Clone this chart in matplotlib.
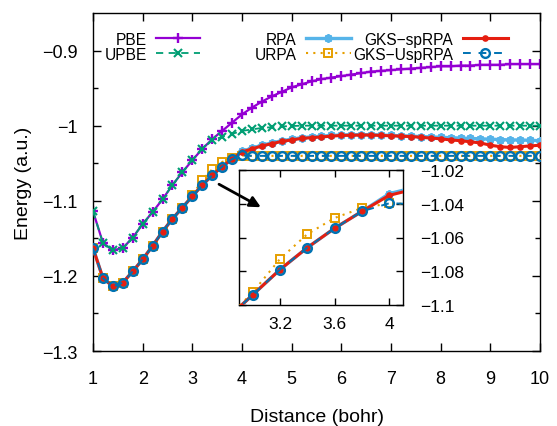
import matplotlib
matplotlib.use("Agg")
import matplotlib.pyplot as plt
from matplotlib.ticker import FixedLocator, FuncFormatter
from matplotlib.patches import FancyArrowPatch

plt.rcParams['font.family'] = ['Liberation Sans', 'DejaVu Sans']
plt.rcParams['axes.unicode_minus'] = True

distance = [1.0, 1.2, 1.4, 1.6, 1.8, 2.0, 2.2, 2.4, 2.6, 2.8,
            3.0, 3.2, 3.4, 3.6, 3.8, 4.0, 4.2, 4.4, 4.6, 4.8,
            5.0, 5.2, 5.4, 5.6, 5.8, 6.0, 6.2, 6.4, 6.6, 6.8,
            7.0, 7.2, 7.4, 7.6, 7.8, 8.0, 8.2, 8.4, 8.6, 8.8,
            9.0, 9.2, 9.4, 9.6, 9.8, 10.0]

pbe = [-1.114, -1.156, -1.166, -1.163, -1.149, -1.131, -1.115, -1.098, -1.079, -1.062,
       -1.046, -1.031, -1.018, -1.007, -0.996, -0.985, -0.976, -0.968, -0.961, -0.955,
       -0.949, -0.945, -0.941, -0.938, -0.936, -0.934, -0.932, -0.930, -0.928, -0.927,
       -0.926, -0.925, -0.924, -0.923, -0.922, -0.921, -0.921, -0.920, -0.920, -0.919,
       -0.919, -0.919, -0.918, -0.918, -0.918, -0.918]

upbe = [-1.114, -1.156, -1.166, -1.163, -1.149, -1.131, -1.115, -1.098, -1.079, -1.062,
        -1.046, -1.031, -1.019, -1.015, -1.011, -1.007, -1.005, -1.003, -1.002, -1.001,
        -1.0005, -1.000, -1.000, -1.000, -1.000, -1.000, -1.000, -1.000, -1.000, -1.000,
        -1.000, -1.000, -1.000, -1.000, -1.000, -1.000, -1.000, -1.000, -1.000, -1.000,
        -1.000, -1.000, -1.000, -1.000, -1.000, -1.000]

rpa = [-1.163, -1.203, -1.214, -1.209, -1.194, -1.178, -1.160, -1.141, -1.124, -1.109,
       -1.094, -1.079, -1.066, -1.0545, -1.0445, -1.034, -1.030, -1.026, -1.023, -1.020,
       -1.018, -1.016, -1.015, -1.014, -1.013, -1.0125, -1.012, -1.012, -1.012, -1.0125,
       -1.013, -1.0135, -1.014, -1.0145, -1.015, -1.0155, -1.016, -1.0165, -1.017, -1.0175,
       -1.018, -1.0185, -1.019, -1.019, -1.0195, -1.020]

urpa = [-1.163, -1.203, -1.214, -1.209, -1.194, -1.178, -1.160, -1.141, -1.124, -1.109,
        -1.0925, -1.0727, -1.058, -1.0484, -1.0425, -1.0398, -1.0402, -1.0402, -1.0402, -1.0402,
        -1.0402, -1.0402, -1.0402, -1.0402, -1.0402, -1.0402, -1.0402, -1.0402, -1.0402, -1.0402,
        -1.0402, -1.0402, -1.0402, -1.0402, -1.0402, -1.0402, -1.0402, -1.0402, -1.0402, -1.0402,
        -1.0402, -1.0402, -1.0402, -1.0402, -1.0402, -1.0402]

gks_sprpa = [-1.163, -1.203, -1.214, -1.209, -1.194, -1.178, -1.160, -1.141, -1.124, -1.109,
             -1.094, -1.079, -1.066, -1.0545, -1.0445, -1.035, -1.031, -1.027, -1.024, -1.021,
             -1.019, -1.017, -1.016, -1.015, -1.014, -1.013, -1.0128, -1.0125, -1.0125, -1.013,
             -1.0135, -1.014, -1.0145, -1.0155, -1.0165, -1.0175, -1.019, -1.020, -1.0215, -1.023,
             -1.026, -1.028, -1.029, -1.028, -1.027, -1.026]

gks_usprpa = [-1.163, -1.203, -1.214, -1.209, -1.194, -1.178, -1.160, -1.141, -1.124, -1.109,
              -1.094, -1.079, -1.066, -1.0545, -1.0445, -1.0397, -1.0402, -1.0402, -1.0402, -1.0402,
              -1.0402, -1.0402, -1.0402, -1.0402, -1.0402, -1.0402, -1.0402, -1.0402, -1.0402, -1.0402,
              -1.0402, -1.0402, -1.0402, -1.0402, -1.0402, -1.0402, -1.0402, -1.0402, -1.0402, -1.0402,
              -1.0402, -1.0402, -1.0402, -1.0402, -1.0402, -1.0402]

labels = ['PBE', 'UPBE', 'RPA', 'URPA', 'GKS\u2212spRPA', 'GKS\u2212UspRPA']
series = [pbe, upbe, rpa, urpa, gks_sprpa, gks_usprpa]

main_xticks = [1, 2, 3, 4, 5, 6, 7, 8, 9, 10]
main_yticks = [-1.3, -1.2, -1.1, -1.0, -0.9]
inset_xticks = [3.2, 3.6, 4.0]
inset_yticks = [-1.1, -1.08, -1.06, -1.04, -1.02]

styles = [
    dict(color='#9400D3', ls='-', marker='+', ms=6.5, mew=1.7, lw=1.6),
    dict(color='#009E73', ls=(0, (4, 3)), marker='x', ms=5.8, mew=1.5, lw=1.3),
    dict(color='#56B4E9', ls='-', marker=(8, 2, 0), ms=6.0, mew=1.5, lw=2.4),
    dict(color='#E69F00', ls=(0, (1, 2.5)), marker='s', mfc='none', ms=5.5, mew=1.4, lw=1.5),
    dict(color='#E51E10', ls='-', marker='o', ms=4.8, mew=0, lw=2.2),
    dict(color='#0072B2', ls=(0, (4, 4)), marker='o', mfc='none', ms=6.3, mew=1.7, lw=1.4),
]

fmt = FuncFormatter(lambda v, p: ('%g' % v).replace('-', '\u2212'))

fig = plt.figure(figsize=(5.57, 4.27), dpi=100)
ax = fig.add_axes([93 / 557, 1 - 352 / 427, (540 - 93) / 557, (352 - 14) / 427])

handles = []
for i, (lab, ys, st) in enumerate(zip(labels, series, styles)):
    h, = ax.plot(distance, ys, label=lab, zorder=2 + i, **st)
    handles.append(h)

ax.set_xlim(1, 10)
ax.set_ylim(-1.3, -0.85)
ax.xaxis.set_major_locator(FixedLocator(main_xticks))
ax.yaxis.set_major_locator(FixedLocator(main_yticks))
ax.yaxis.set_minor_locator(FixedLocator([-1.25, -1.15, -1.05, -0.95]))
ax.xaxis.set_major_formatter(fmt)
ax.yaxis.set_major_formatter(fmt)
ax.tick_params(which='both', direction='in', top=True, right=True, labelsize=13)
ax.tick_params(which='major', length=6, width=1)
ax.tick_params(which='minor', length=3.5, width=1)
ax.tick_params(axis='y', pad=11)
ax.tick_params(axis='x', pad=14)
for s in ax.spines.values():
    s.set_linewidth(1.0)

ax.set_xlabel('Distance (bohr)', fontsize=14)
ax.set_ylabel('Energy (a.u.)', fontsize=14)
ax.xaxis.set_label_coords(0.5, -0.17)
ax.yaxis.set_label_coords(-0.137, 0.5)

leg1 = ax.legend(handles[:2], labels[:2], loc='upper right', bbox_to_anchor=(0.239, 0.945),
                 ncol=1, markerfirst=False, frameon=False, borderpad=0, borderaxespad=0,
                 handlelength=2.8, handletextpad=0.6, labelspacing=0.0, fontsize=11.2,
                 numpoints=1)
ax.add_artist(leg1)
leg2 = ax.legend(handles[2:], labels[2:], loc='upper right', bbox_to_anchor=(0.928, 0.945),
                 ncol=2, markerfirst=False, frameon=False, borderpad=0, borderaxespad=0,
                 handlelength=2.9, handletextpad=0.6, labelspacing=0.0, columnspacing=0.15,
                 fontsize=11.2, numpoints=1)

# inset: only the RPA-family curves
axins = fig.add_axes([239 / 557, 1 - 306 / 427, (403 - 239) / 557, (306 - 171) / 427])
for i in range(2, 6):
    axins.plot(distance, series[i], zorder=2 + i, **styles[i])
axins.set_xlim(2.9, 4.1)
axins.set_ylim(-1.1, -1.02)
axins.xaxis.set_major_locator(FixedLocator(inset_xticks))
axins.yaxis.set_major_locator(FixedLocator(inset_yticks))
axins.xaxis.set_major_formatter(fmt)
axins.yaxis.set_major_formatter(fmt)
axins.tick_params(which='both', direction='in', top=True, left=True, right=True,
                  labelleft=False, labelright=True, labelsize=12.5, length=5, width=1)
axins.tick_params(axis='y', pad=12)
axins.tick_params(axis='x', pad=8)
for s in axins.spines.values():
    s.set_linewidth(1.0)

arrow = FancyArrowPatch((3.537, -1.078), (4.38, -1.1086), transform=ax.transData,
                        arrowstyle='-|>', mutation_scale=16, lw=2, color='black',
                        shrinkA=0, shrinkB=0)
fig.add_artist(arrow)

fig.savefig('out.png', dpi=100)
